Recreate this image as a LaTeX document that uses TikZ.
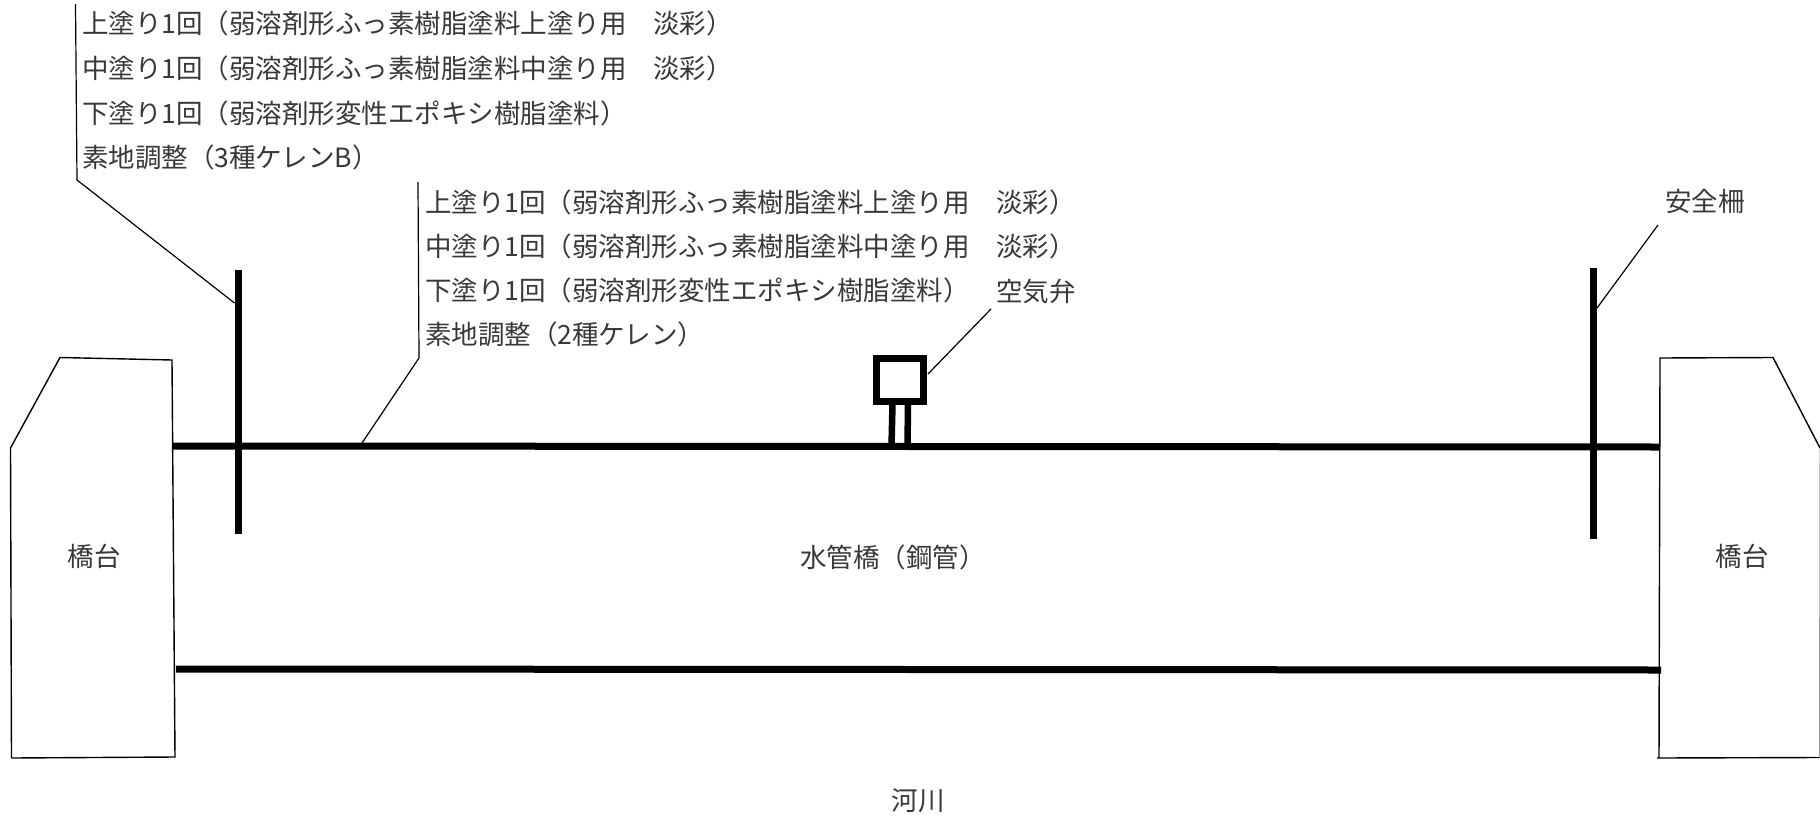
\documentclass[tikz,border=0pt]{standalone}
\usepackage{fontspec}
\setmainfont{Noto Sans CJK JP}
\tikzset{
  thick line/.style={line width=7pt,black},
  thin line/.style={line width=1.4pt,black},
  leader/.style={line width=1.2pt,black},
  label/.style={inner sep=0pt,outer sep=0pt,font=\fontsize{26.5pt}{30pt}\selectfont,text=black!78},
  lineL/.style={label,anchor=west},
}
\begin{document}
\begin{tikzpicture}[x=1pt,y=-1pt]
\useasboundingbox (0,0) rectangle (1820,819);
% abutments
\coordinate (la1) at (10.5,448); \coordinate (la2) at (60,357.5); \coordinate (la3) at (172,360);
\coordinate (la4) at (175,757); \coordinate (la5) at (11.5,758);
\draw[thin line] (la5) -- (la1) -- (la2) -- (la3) -- (la4) -- (la5);
\coordinate (ra1) at (1660,358); \coordinate (ra2) at (1773,357.5); \coordinate (ra3) at (1820,448);
\coordinate (ra4) at (1659,758); \coordinate (ra5) at (1820,757.5);
\draw[thin line] (ra3) -- (ra2) -- (ra1) -- (ra4);
\draw[thin line] (1657,758) -- (ra5);
\draw[line width=1pt,black!40] (ra3) -- (1819.5,757.5);
% pipes
\coordinate (pt1) at (172,446); \coordinate (pt2) at (1660,447);
\coordinate (pb1) at (176,669); \coordinate (pb2) at (1661,670);
\draw[thick line] (pt1) -- (pt2);
\draw[thick line] (pb1) -- (pb2);
% fences
\coordinate (fl1) at (238.5,270); \coordinate (fl2) at (238.5,534);
\coordinate (fr1) at (1593,268); \coordinate (fr2) at (1593,539);
\draw[thick line] (fl1) -- (fl2);
\draw[thick line] (fr1) -- (fr2);
% valve
\coordinate (v1) at (876,358.5); \coordinate (v2) at (923.5,401);
\draw[thick line] (v1) rectangle (v2);
\coordinate (s1a) at (892.5,404); \coordinate (s1b) at (891.5,446);
\coordinate (s2a) at (908,404); \coordinate (s2b) at (907.5,446);
\draw[line width=6.5pt] (s1a) -- (s1b);
\draw[line width=6.5pt] (s2a) -- (s2b);
% leaders
\coordinate (l1a) at (75.5,4); \coordinate (l1b) at (77,180); \coordinate (l1c) at (234.5,303);
\draw[leader] (l1a) -- (l1b) -- (l1c);
\coordinate (l2a) at (418,182); \coordinate (l2b) at (419,358); \coordinate (l2c) at (360,446);
\draw[leader] (l2a) -- (l2b) -- (l2c);
\coordinate (l3a) at (991,309); \coordinate (l3b) at (928,374);
\draw[leader] (l3a) -- (l3b);
\coordinate (l4a) at (1658,225); \coordinate (l4b) at (1597,308);
\draw[leader] (l4a) -- (l4b);
% labels
\node[lineL] (t1) at (82,23) {上塗り1回（弱溶剤形ふっ素樹脂塗料上塗り用　淡彩）};
\node[lineL] (t2) at (82,68) {中塗り1回（弱溶剤形ふっ素樹脂塗料中塗り用　淡彩）};
\node[lineL] (t3) at (82,113) {下塗り1回（弱溶剤形変性エポキシ樹脂塗料）};
\node[lineL] (t4) at (82,157) {素地調整（3種ケレンB）};
\node[lineL] (u1) at (425,202) {上塗り1回（弱溶剤形ふっ素樹脂塗料上塗り用　淡彩）};
\node[lineL] (u2) at (425,246) {中塗り1回（弱溶剤形ふっ素樹脂塗料中塗り用　淡彩）};
\node[lineL] (u3) at (425,290) {下塗り1回（弱溶剤形変性エポキシ樹脂塗料）};
\node[lineL] (u4) at (425,334) {素地調整（2種ケレン）};
\node[label] (valve) at (1036,291) {空気弁};
\node[label] (fence) at (1705,201) {安全柵};
\node[label] (abL) at (94,556) {橋台};
\node[label] (abR) at (1742,556) {橋台};
\node[lineL] (bridge) at (800,557) {水管橋（鋼管）};
\node[label] (river) at (918,801) {河川};
\end{tikzpicture}
\end{document}
